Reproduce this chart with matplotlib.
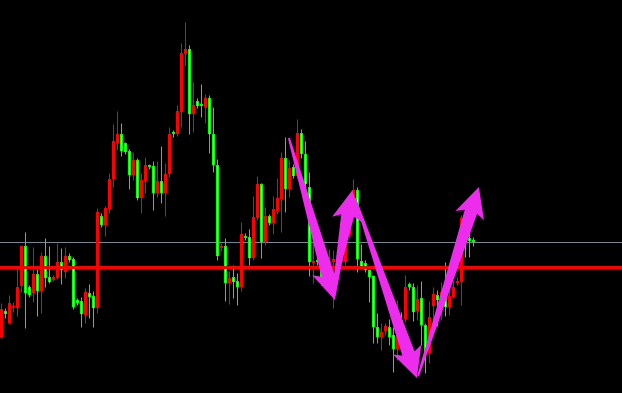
import matplotlib
matplotlib.use('Agg')
import matplotlib.pyplot as plt
from matplotlib.patches import Polygon
import numpy as np

# candle prices (arbitrary price units)
opens = [63, 89, 77, 93, 92, 114, 154, 113, 107, 126, 109, 144, 123, 120, 122, 138, 128, 144, 141, 100,
         99, 85, 107, 104, 92, 184, 175, 191, 221, 257, 266, 257, 249, 225, 240, 202, 219, 235, 234, 207,
         219, 207, 226, 268, 266, 288, 346, 351, 286, 299, 296, 293, 302, 266, 235, 152, 154, 117, 123, 119,
         113, 164, 163, 142, 182, 216, 158, 184, 177, 189, 201, 242, 211, 233, 224, 267, 246, 213, 137, 140,
         130, 138, 137, 138, 141, 138, 138, 165, 193, 210, 139, 137, 130, 124, 73, 63, 69, 73, 65, 51,
         80, 81, 116, 113, 89, 102, 75, 47, 94, 105, 100, 108, 93, 103, 117, 118, 182, 162, 160]
highs = [97, 92, 105, 98, 132, 154, 168, 115, 153, 131, 148, 162, 154, 125, 157, 152, 153, 147, 143, 102,
         103, 112, 116, 109, 192, 187, 194, 227, 276, 289, 277, 258, 251, 248, 242, 227, 243, 236, 239, 239,
         254, 237, 273, 270, 295, 357, 378, 355, 318, 302, 316, 306, 305, 293, 241, 157, 162, 129, 135, 127,
         178, 167, 171, 204, 224, 217, 193, 186, 204, 222, 248, 263, 240, 236, 281, 271, 259, 228, 160, 145,
         138, 145, 151, 150, 145, 148, 172, 200, 221, 213, 156, 140, 131, 125, 87, 77, 77, 81, 73, 100,
         88, 125, 118, 117, 115, 119, 77, 99, 113, 110, 118, 138, 110, 120, 123, 185, 190, 170, 163]
lows = [62, 82, 76, 88, 84, 108, 72, 103, 98, 84, 87, 113, 117, 119, 121, 116, 122, 138, 91, 95,
        73, 77, 82, 73, 87, 173, 164, 187, 213, 250, 244, 246, 211, 220, 200, 187, 207, 231, 190, 203,
        197, 184, 223, 263, 264, 273, 334, 266, 268, 292, 283, 277, 247, 228, 140, 149, 99, 96, 102, 95,
        109, 160, 135, 140, 180, 142, 155, 175, 166, 186, 168, 188, 203, 222, 222, 242, 203, 124, 117, 135,
        115, 128, 134, 92, 132, 134, 135, 162, 188, 128, 132, 128, 98, 57, 57, 50, 65, 55, 28, 40,
        65, 78, 110, 79, 80, 55, 27, 37, 80, 74, 80, 84, 85, 102, 115, 95, 143, 143, 154]
closes = [91, 86, 97, 94, 113, 154, 107, 105, 126, 109, 144, 122, 118, 123, 138, 130, 144, 140, 93, 97,
          86, 108, 103, 92, 188, 175, 192, 221, 259, 266, 249, 248, 225, 240, 202, 220, 235, 233, 207, 219,
          207, 226, 266, 266, 289, 347, 351, 286, 295, 294, 294, 302, 266, 235, 144, 154, 117, 122, 118, 113,
          166, 162, 142, 183, 216, 158, 184, 177, 191, 202, 242, 211, 232, 224, 267, 246, 216, 138, 139, 138,
          119, 142, 139, 141, 137, 141, 167, 193, 210, 141, 133, 130, 123, 73, 63, 68, 74, 63, 51, 80,
          75, 113, 113, 88, 101, 75, 48, 83, 106, 100, 108, 93, 104, 113, 119, 182, 164, 159, 158]

support_level = 133   # thick red line
last_price = 158      # thin grey line

# arrows drawn on the chart: (tail index, tail price, tip index, tip price)
arrows = [
    (71.9, 262, 83.4, 100),
    (82.9, 107, 87.8, 210),
    (88.4, 202, 103.9, 22),
    (104.2, 24, 119.4, 213),
]

bull_color = '#ff0000'
bear_color = '#00ff00'
arrow_color = '#ee2cee'

fig = plt.figure(figsize=(6.22, 3.93), dpi=100, facecolor='black')
ax = fig.add_axes([0, 0, 1, 1])
ax.set_facecolor('black')
ax.set_xlim(-0.325, 155.175)
ax.set_ylim(7, 400)
ax.axis('off')

o = np.array(opens)
h = np.array(highs)
l = np.array(lows)
c = np.array(closes)
idx = np.arange(len(o))
up = c >= o
colors = np.where(up, bull_color, bear_color)

px = 72.0 / 100  # one pixel in points

ax.axhline(last_price, color='#778899', lw=px, zorder=1)

# wicks
ax.vlines(idx, l, h, colors=colors, lw=px, zorder=2)

# bodies
bottoms = np.minimum(o, c)
heights = np.maximum(np.abs(c - o), 1)
ax.bar(idx, heights, bottom=bottoms, width=0.75, color=colors, lw=0, zorder=3)

# bearish candles have a light stripe inside
down = ~up
ax.vlines(idx[down], bottoms[down] + 0.8, bottoms[down] + heights[down] - 0.8,
          colors='#e8ffe8', lw=px, zorder=4)

ax.axhline(support_level, color='#ff0000', lw=3 * px, zorder=5)

fig.canvas.draw()


def tapered_arrow(x0, y0, x1, y1, tail_w=2, shaft_w=13, head_w=30, head_len=26):
    # build the arrow in pixel space so the shape is not stretched
    p0 = ax.transData.transform((x0, y0))
    p1 = ax.transData.transform((x1, y1))
    d = p1 - p0
    length = np.hypot(*d)
    u = d / length
    n = np.array([-u[1], u[0]])
    base = p1 - u * head_len
    barb = p1 - u * (head_len + 4)
    pts = [p0 + n * tail_w / 2,
           base + n * shaft_w / 2,
           barb + n * head_w / 2,
           p1,
           barb - n * head_w / 2,
           base - n * shaft_w / 2,
           p0 - n * tail_w / 2]
    pts = ax.transData.inverted().transform(np.array(pts))
    ax.add_patch(Polygon(pts, closed=True, facecolor=arrow_color, edgecolor='none', zorder=6))


for a in arrows:
    tapered_arrow(*a)

fig.savefig('out.png', dpi=100, facecolor='black')
